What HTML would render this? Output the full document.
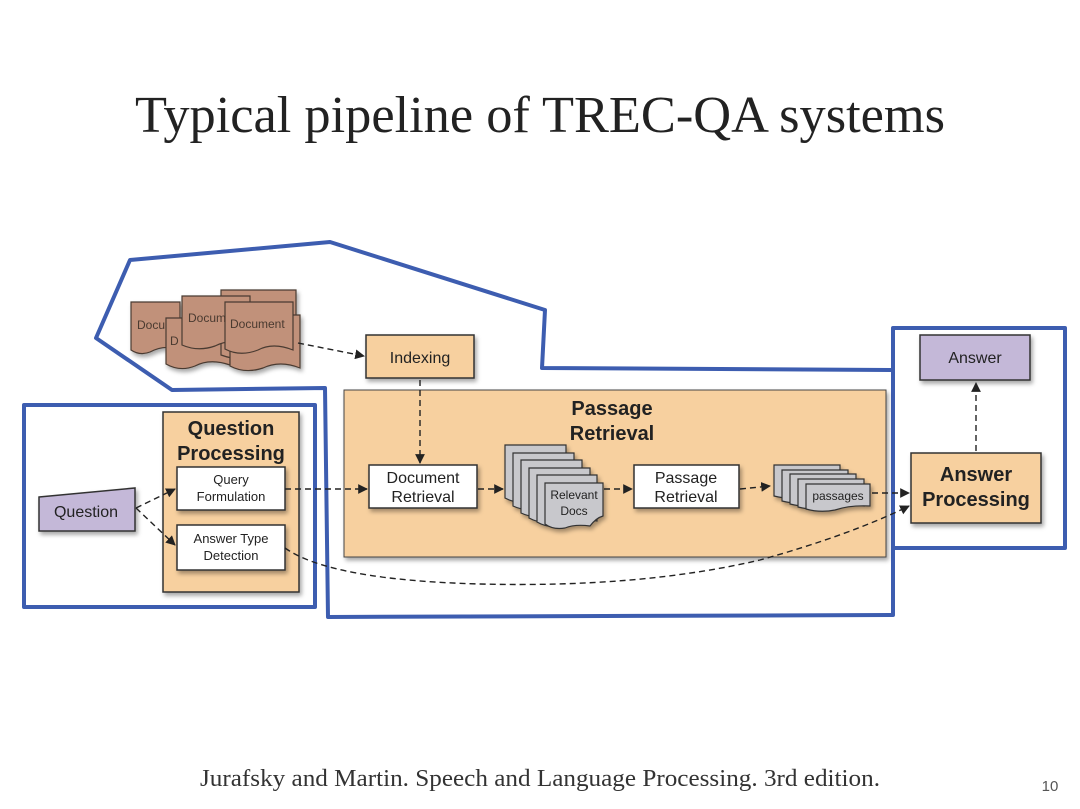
<!DOCTYPE html>
<html><head><meta charset="utf-8"><style>
html,body{margin:0;padding:0;background:#fff;width:1080px;height:809px;overflow:hidden}
svg text{font-family:"Liberation Sans",sans-serif}
</style></head><body>
<svg width="1080" height="809" viewBox="0 0 1080 809" xmlns="http://www.w3.org/2000/svg">
<defs>
<marker id="ar" viewBox="0 0 10 10" refX="9" refY="5" markerWidth="7" markerHeight="7" orient="auto"><path d="M0,0 L10,5 L0,10 z" fill="#222"/></marker>
<filter id="sh" x="-10%" y="-10%" width="130%" height="130%"><feDropShadow dx="2" dy="3" stdDeviation="2" flood-color="#000" flood-opacity="0.35"/></filter>
</defs>
<text x="540" y="132" text-anchor="middle" textLength="810" lengthAdjust="spacingAndGlyphs" style="font-family:'Liberation Serif',serif;font-size:52px" fill="#222">Typical pipeline of TREC-QA systems</text>
<text x="540" y="786" text-anchor="middle" textLength="680" lengthAdjust="spacingAndGlyphs" style="font-family:'Liberation Serif',serif;font-size:24px" fill="#333">Jurafsky and Martin. Speech and Language Processing. 3rd edition.</text>
<text x="1050" y="791" text-anchor="middle" style="font-size:15px" fill="#555">10</text>

<!-- blue outlines -->
<g fill="none" stroke="#3d5db0" stroke-width="4" stroke-linejoin="round">
<polygon points="96,338 130,260 330,242 545,310 542,368 893,370 893,615 328,617 325,388 172,390"/>
<rect x="24" y="405" width="291" height="202"/>
<rect x="893" y="328" width="172" height="220"/>
</g>

<!-- documents -->
<g stroke="#4a3a30" stroke-width="1.2" fill="#c1917a" filter="url(#sh)">
<path d="M131,302 H180 V350 Q165,344 150,352 Q140,356 131,350 Z"/>
<path d="M166,318 H230 V365 Q210,358 195,366 Q180,372 166,364 Z"/>
<path d="M221,290 H296 V355 Q275,348 258,356 Q240,362 221,355 Z"/>
<path d="M230,315 H300 V368 Q280,360 263,368 Q245,374 230,366 Z"/>
<path d="M182,296 H250 V345 Q230,338 215,346 Q198,352 182,345 Z"/>
<path d="M225,302 H293 V350 Q273,342 258,350 Q240,357 225,349 Z"/>
</g>
<g font-size="12" fill="#4a3a30">
<text x="137" y="329">Docu</text><text x="170" y="345">D</text>
<text x="188" y="322">Docum</text><text x="230" y="328">Document</text>
</g>

<!-- Indexing -->
<rect x="366" y="335" width="108" height="43" fill="#f7d09f" stroke="#333" stroke-width="1.5" filter="url(#sh)"/>
<text x="420" y="363" text-anchor="middle" font-size="16" fill="#222">Indexing</text>

<!-- Passage retrieval big box -->
<rect x="344" y="390" width="542" height="167" fill="#f7d09f" stroke="#444" stroke-width="1" filter="url(#sh)"/>
<text x="612" y="415" text-anchor="middle" font-size="20" font-weight="bold" fill="#222">Passage</text>
<text x="612" y="440" text-anchor="middle" font-size="20" font-weight="bold" fill="#222">Retrieval</text>

<!-- Question processing -->
<rect x="163" y="412" width="136" height="180" fill="#f7d09f" stroke="#333" stroke-width="1.5" filter="url(#sh)"/>
<text x="231" y="435" text-anchor="middle" font-size="20" font-weight="bold" fill="#222">Question</text>
<text x="231" y="460" text-anchor="middle" font-size="20" font-weight="bold" fill="#222">Processing</text>
<rect x="177" y="467" width="108" height="43" fill="#fff" stroke="#333" stroke-width="1.5" filter="url(#sh)"/>
<text x="231" y="484" text-anchor="middle" font-size="13" fill="#222">Query</text>
<text x="231" y="501" text-anchor="middle" font-size="13" fill="#222">Formulation</text>
<rect x="177" y="525" width="108" height="45" fill="#fff" stroke="#333" stroke-width="1.5" filter="url(#sh)"/>
<text x="231" y="543" text-anchor="middle" font-size="13" fill="#222">Answer Type</text>
<text x="231" y="560" text-anchor="middle" font-size="13" fill="#222">Detection</text>

<!-- Question -->
<polygon points="39,497 135,488 135,531 39,531" fill="#c4b8d8" stroke="#333" stroke-width="1.5" filter="url(#sh)"/>
<text x="86" y="517" text-anchor="middle" font-size="16" fill="#222">Question</text>

<!-- Document retrieval -->
<rect x="369" y="465" width="108" height="43" fill="#fff" stroke="#333" stroke-width="1.5" filter="url(#sh)"/>
<text x="423" y="483" text-anchor="middle" font-size="16" fill="#222">Document</text>
<text x="423" y="502" text-anchor="middle" font-size="16" fill="#222">Retrieval</text>

<!-- relevant docs stack -->
<g fill="#c8c8cc" stroke="#333" stroke-width="1.2" filter="url(#sh)">
<path d="M505,445 H566 V498 Q550,493 535,500 Q520,506 505,498 Z"/>
<path d="M513,453 H574 V506 Q558,500 543,507 Q528,513 513,506 Z"/>
<path d="M521,460 H582 V513 Q566,507 551,514 Q536,520 521,513 Z"/>
<path d="M529,468 H590 V518 Q574,513 559,520 Q544,526 529,518 Z"/>
<path d="M537,475 H597 V521 Q581,517 566,524 Q551,530 537,522 Z"/>
<path d="M545,483 H603 V516 Q596,518 590,526 Q575,524 565,528 Q553,530 545,524 Z"/>
</g>
<text x="574" y="499" text-anchor="middle" font-size="12" fill="#222">Relevant</text>
<text x="574" y="515" text-anchor="middle" font-size="12" fill="#222">Docs</text>

<!-- Passage Retrieval small -->
<rect x="634" y="465" width="105" height="43" fill="#fff" stroke="#333" stroke-width="1.5" filter="url(#sh)"/>
<text x="686" y="483" text-anchor="middle" font-size="16" fill="#222">Passage</text>
<text x="686" y="502" text-anchor="middle" font-size="16" fill="#222">Retrieval</text>

<!-- passages stack -->
<g fill="#c8c8cc" stroke="#333" stroke-width="1.2" filter="url(#sh)">
<path d="M774,465 H840 V495 Q822,492 805,497 Q790,500 774,496 Z"/>
<path d="M782,470 H848 V500 Q830,497 813,502 Q798,505 782,501 Z"/>
<path d="M790,474 H856 V503 Q838,500 821,505 Q806,508 790,504 Z"/>
<path d="M798,479 H864 V506 Q846,503 829,508 Q814,511 798,507 Z"/>
<path d="M806,484 H870 V506 Q850,505 835,510 Q820,513 806,509 Z"/>
</g>
<text x="838" y="500" text-anchor="middle" font-size="12" fill="#222">passages</text>

<!-- Answer processing -->
<rect x="911" y="453" width="130" height="70" fill="#f7d09f" stroke="#333" stroke-width="1.5" filter="url(#sh)"/>
<text x="976" y="481" text-anchor="middle" font-size="20" font-weight="bold" fill="#222">Answer</text>
<text x="976" y="506" text-anchor="middle" font-size="20" font-weight="bold" fill="#222">Processing</text>

<!-- Answer -->
<rect x="920" y="335" width="110" height="45" fill="#c4b8d8" stroke="#333" stroke-width="1.5" filter="url(#sh)"/>
<text x="975" y="363" text-anchor="middle" font-size="16" fill="#222">Answer</text>

<!-- connectors -->
<g fill="none" stroke="#222" stroke-width="1.4" stroke-dasharray="6,4" marker-end="url(#ar)">
<path d="M298,343 L364,356"/>
<path d="M420,380 L420,463"/>
<path d="M136,508 L175,489"/>
<path d="M136,508 L175,545"/>
<path d="M285,489 L367,489"/>
<path d="M478,489 L503,489"/>
<path d="M604,489 L632,489"/>
<path d="M740,489 L770,486"/>
<path d="M872,493 L909,493"/>
<path d="M285,548 Q330,580 480,584 Q640,588 760,560 Q850,535 909,506"/>
<path d="M976,451 L976,383"/>
</g>
</svg>
</body></html>
